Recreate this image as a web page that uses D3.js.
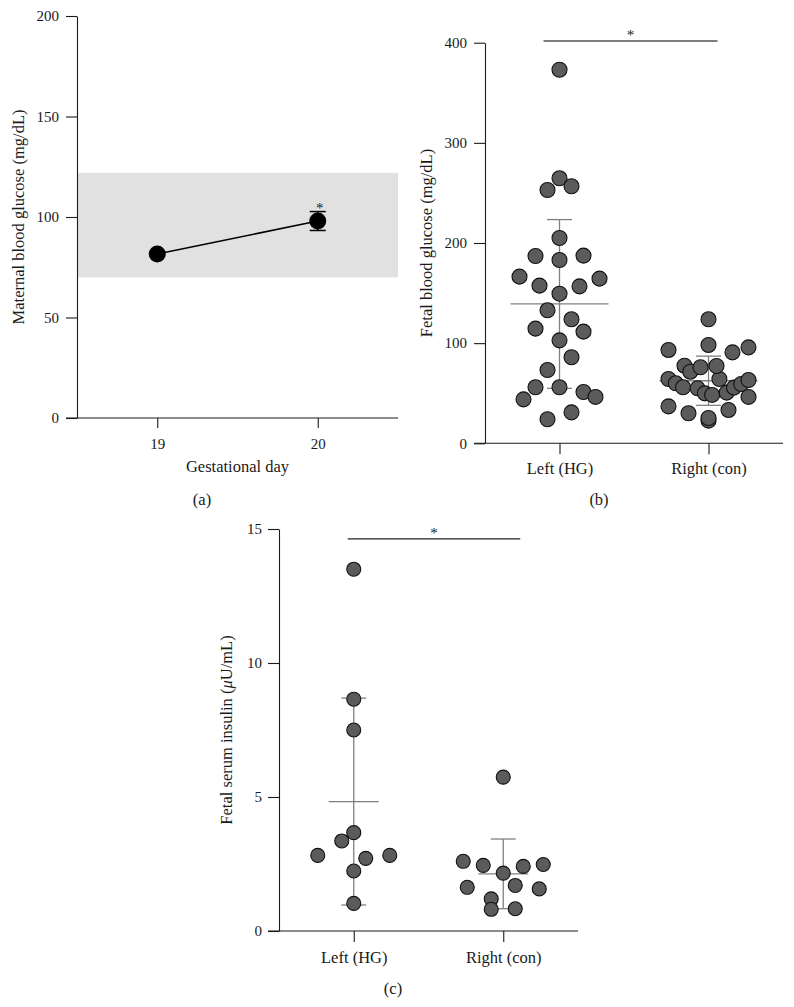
<!DOCTYPE html>
<html>
<head>
<meta charset="utf-8">
<script src="https://cdn.jsdelivr.net/npm/d3@7/dist/d3.min.js"></script>
<style>
  html, body { margin: 0; padding: 0; background: #fff; }
  svg { display: block; }
  text { font-family: "Liberation Serif", "Times New Roman", serif; fill: #1a1a1a; }
</style>
</head>
<body>
<svg id="chart" width="794" height="1007"></svg>
<script>
// ---------------- DATA ----------------
// Panel (a): maternal blood glucose
const days = ["19", "20"];
const maternalMean = [81.6, 98.0];
const maternalErr = [1.0, 4.7];
const normalRange = [70, 122];
const ticksA = [0, 50, 100, 150, 200];

// Panels (b) and (c): individual fetal values (listed left-to-right as they appear in the swarm)
const groups = ["Left (HG)", "Right (con)"];
const glucoseLeft = [166.4, 205, 132.8, 73.2, 43.9, 264.6, 157.4, 187, 114.5, 85.9, 55.9, 24.0,
  373, 252.9, 149.4, 183, 102.8, 55.9, 30.9, 156.7, 256.6, 123.8, 111.5, 51.2, 187.4, 46.3, 164.4];
const glucoseRight = [36.9, 98.2, 64.2, 59.9, 93.2, 30.0, 55.9, 77.5, 71.5, 54.9, 22.6, 49.9, 123.8,
  75.9, 48.3, 25.3, 64.2, 50.6, 77.2, 55.6, 90.8, 33.3, 59.2, 63.2, 95.8, 46.3];
const ticksB = [0, 100, 200, 300, 400];

const insulinLeft = [2.82, 3.36, 2.71, 13.5, 8.65, 7.5, 1.03, 3.67, 2.24, 2.82];
const insulinRight = [2.6, 1.63, 2.45, 1.2, 2.16, 5.74, 0.81, 1.7, 0.83, 2.41, 1.57, 2.48];
const ticksC = [0, 5, 10, 15];

// ---------------- HELPERS ----------------
const svg = d3.select("#chart");
const AXIS = "#1a1a1a";
const GREY = "#808080";
const DOT_FILL = "#5b5b5b";
const FN = 15;    // numbers
const FT = 16.5;  // words

// row-binned scatter (column-scatter style): points in the same band are spread evenly
function columnScatter(values, y, binH, spacing, halfW) {
  const y0 = y.range()[0];
  const pts = values.map((v, i) => ({ v, y: y(v), i, dx: 0 }));
  const bins = d3.group(pts, p => Math.floor((y0 - p.y) / binH));
  for (const [, arr] of bins) {
    const n = arr.length;
    if (n < 2) continue;
    const s = Math.min(spacing, 2 * halfW / (n - 1));
    arr.forEach((p, j) => { p.dx = (j - (n - 1) / 2) * s; });
  }
  return pts;
}

function yAxis(g, y, ticks, pad) {
  const ax = g.append("g")
    .attr("transform", `translate(${y.ax},0)`)
    .call(d3.axisLeft(y).tickValues(ticks).tickSize(11).tickSizeOuter(0).tickPadding(pad));
  ax.select(".domain").attr("stroke", AXIS).attr("stroke-width", 1.1);
  ax.selectAll(".tick line").attr("stroke", AXIS).attr("stroke-width", 1.1);
  ax.selectAll(".tick text").style("font-size", FN + "px").style("font-family", "Liberation Serif").attr("fill", AXIS);
  return ax;
}

function xAxis(g, x, yPos, leftExt, tickLen, pad, fs) {
  const ax = g.append("g")
    .attr("transform", `translate(0,${yPos})`)
    .call(d3.axisBottom(x).tickSize(tickLen).tickSizeOuter(0).tickPadding(pad));
  ax.select(".domain").remove();
  const r = x.range();
  ax.append("line").attr("x1", r[0] - leftExt).attr("x2", r[1]).attr("y1", 0).attr("y2", 0)
    .attr("stroke", AXIS).attr("stroke-width", 1.1);
  ax.selectAll(".tick line").attr("stroke", AXIS).attr("stroke-width", 1.1);
  ax.selectAll(".tick text").style("font-size", fs + "px").style("font-family", "Liberation Serif").attr("fill", AXIS);
  return ax;
}

function scatterPanel(cfg) {
  const { x, y, left, right, ticks, ylabel, ylabelX, tickPad, xTickPad, r, binH, meanHalf, capHalf, sig, panelLabel } = cfg;
  const g = svg.append("g");
  yAxis(g, y, ticks, tickPad);
  xAxis(g, x, y.range()[0], 11, 11, xTickPad, FT);

  const series = [left, right];
  series.forEach((vals, k) => {
    const cx = x(groups[k]);
    const m = d3.mean(vals), sd = d3.deviation(vals);
    const eg = g.append("g").attr("stroke", GREY).attr("stroke-width", 1.3).attr("fill", "none");
    eg.append("line").attr("x1", cx).attr("x2", cx).attr("y1", y(m + sd)).attr("y2", y(m - sd));
    eg.append("line").attr("x1", cx - capHalf).attr("x2", cx + capHalf).attr("y1", y(m + sd)).attr("y2", y(m + sd));
    eg.append("line").attr("x1", cx - capHalf).attr("x2", cx + capHalf).attr("y1", y(m - sd)).attr("y2", y(m - sd));
    eg.append("line").attr("x1", cx - meanHalf).attr("x2", cx + meanHalf).attr("y1", y(m)).attr("y2", y(m));

    const pts = columnScatter(vals, y, binH, 24, 40);
    g.append("g").selectAll("circle").data(pts).join("circle")
      .attr("cx", d => cx + d.dx).attr("cy", d => d.y).attr("r", r)
      .attr("fill", DOT_FILL).attr("stroke", "#111").attr("stroke-width", 1.1);
  });

  // significance bar
  const sx1 = x(groups[0]) + sig.l, sx2 = x(groups[1]) + sig.r, sy = y(sig.v);
  g.append("line").attr("x1", sx1).attr("x2", sx2).attr("y1", sy).attr("y2", sy)
    .attr("stroke", sig.color).attr("stroke-width", 1.4);
  g.append("text").attr("x", (sx1 + sx2) / 2).attr("y", sy - 0.5).attr("text-anchor", "middle")
    .style("font-size", FN + "px").text("*");

  // y label
  const yr = y.range();
  const yl = g.append("text").attr("transform", `translate(${ylabelX},${(yr[0] + yr[1]) / 2}) rotate(-90)`)
    .attr("text-anchor", "middle").style("font-size", FT + "px");
  ylabel(yl);

  g.append("text").attr("x", panelLabel.x).attr("y", panelLabel.y).attr("text-anchor", "middle")
    .style("font-size", FT + "px").text(panelLabel.t);
}

// ---------------- PANEL (a) ----------------
(function () {
  const x = d3.scalePoint().domain(days).range([77, 398]).padding(0.5);
  const y = d3.scaleLinear().domain([0, 200]).range([418, 16]);
  y.ax = 77;
  const g = svg.append("g");
  g.append("rect").attr("x", x.range()[0]).attr("width", x.range()[1] - x.range()[0])
    .attr("y", y(normalRange[1])).attr("height", y(normalRange[0]) - y(normalRange[1]))
    .attr("fill", "#e1e1e1");
  yAxis(g, y, ticksA, 7);
  xAxis(g, x, 418, 11, 10, 10, FN);

  const pts = days.map((d, i) => ({ d, m: maternalMean[i], e: maternalErr[i] }));
  g.append("path").datum(pts)
    .attr("d", d3.line().x(p => x(p.d)).y(p => y(p.m)))
    .attr("stroke", "#000").attr("stroke-width", 1.5).attr("fill", "none");
  pts.forEach(p => {
    const cx = x(p.d);
    const eg = g.append("g").attr("stroke", "#000").attr("stroke-width", 1.5);
    eg.append("line").attr("x1", cx).attr("x2", cx).attr("y1", y(p.m + p.e)).attr("y2", y(p.m - p.e));
    eg.append("line").attr("x1", cx - 8).attr("x2", cx + 8).attr("y1", y(p.m + p.e)).attr("y2", y(p.m + p.e));
    eg.append("line").attr("x1", cx - 8).attr("x2", cx + 8).attr("y1", y(p.m - p.e)).attr("y2", y(p.m - p.e));
  });
  g.append("g").selectAll("circle").data(pts).join("circle")
    .attr("cx", p => x(p.d)).attr("cy", p => y(p.m)).attr("r", 8.5).attr("fill", "#000");
  // significance star above day 20
  g.append("text").attr("x", x(days[1]) + 2).attr("y", y(maternalMean[1] + maternalErr[1]) + 1)
    .attr("text-anchor", "middle").style("font-size", FN + "px").text("*");

  g.append("text").attr("x", (x.range()[0] + x.range()[1]) / 2).attr("y", 472)
    .attr("text-anchor", "middle").style("font-size", FT + "px").text("Gestational day");
  g.append("text").attr("transform", `translate(24,${(y.range()[0] + y.range()[1]) / 2}) rotate(-90)`)
    .attr("text-anchor", "middle").style("font-size", FT + "px").text("Maternal blood glucose (mg/dL)");
  g.append("text").attr("x", 202).attr("y", 505).attr("text-anchor", "middle")
    .style("font-size", FT + "px").text("(a)");
})();

// ---------------- PANEL (b) ----------------
(function () {
  const x = d3.scalePoint().domain(groups).range([485, 783]).padding(0.5);
  const y = d3.scaleLinear().domain([0, 400]).range([443.3, 42.7]);
  y.ax = 485;
  scatterPanel({
    x, y, left: glucoseLeft, right: glucoseRight, ticks: ticksB,
    ylabel: t => t.text("Fetal blood glucose (mg/dL)"), ylabelX: 432,
    tickPad: 7, xTickPad: 8, r: 7.5, binH: 24, meanHalf: 49, capHalf: 12.5,
    sig: { l: -16, r: 9, v: 401.7, color: "#555" },
    panelLabel: { x: 599, y: 505, t: "(b)" }
  });
})();

// ---------------- PANEL (c) ----------------
(function () {
  const x = d3.scalePoint().domain(groups).range([279, 578]).padding(0.5);
  const y = d3.scaleLinear().domain([0, 15]).range([931, 529]);
  y.ax = 279;
  scatterPanel({
    x, y, left: insulinLeft, right: insulinRight, ticks: ticksC,
    ylabel: t => { t.append("tspan").text("Fetal serum insulin ("); t.append("tspan").style("font-style", "italic").text("μ"); t.append("tspan").text("U/mL)"); },
    ylabelX: 232, tickPad: 6, xTickPad: 9, r: 7, binH: 24, meanHalf: 25, capHalf: 12.5,
    sig: { l: -6, r: 17, v: 14.63, color: "#222" },
    panelLabel: { x: 393, y: 994, t: "(c)" }
  });
})();
</script>
</body>
</html>
